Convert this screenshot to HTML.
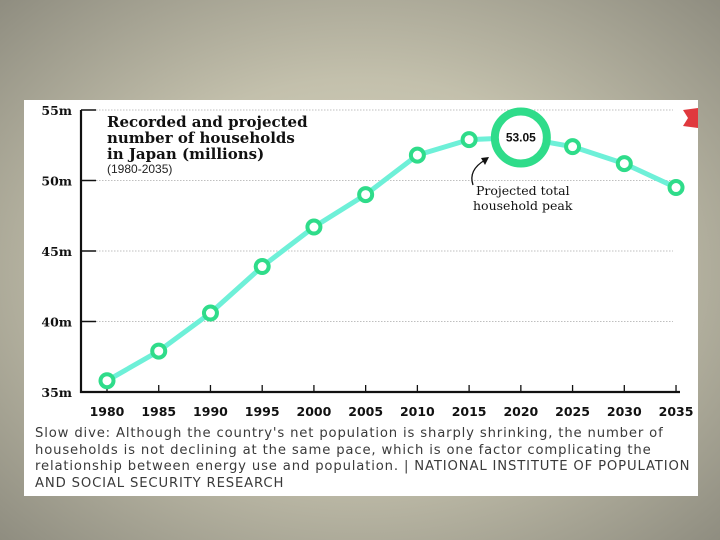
<!DOCTYPE html>
<html><head><meta charset="utf-8"><style>
body{margin:0;width:720px;height:540px;overflow:hidden;background:radial-gradient(ellipse at 50% 50%,#dcd9c6 0%,#c3c0ac 50%,#8f8d80 100%);font-family:"Liberation Sans",sans-serif}
#panel{position:absolute;left:24px;top:100px;width:674px;height:396px;background:#fff}
#cap{position:absolute;left:35px;top:426px;width:680px;font-family:"DejaVu Sans",sans-serif;font-size:13.2px;line-height:16.5px;color:#3a3a3a;letter-spacing:0.85px;white-space:nowrap}
</style></head><body>
<div id="panel"></div>
<svg width="720" height="540" style="position:absolute;left:0;top:0" id="chart">
<polygon points="683,110 698,108 698,128 683,126 688,118" fill="#e0393e"/>
<g id="grid"></g>
<g id="series"></g>
<text x="107" y="127" font-family="DejaVu Serif,serif" font-weight="bold" font-size="15" fill="#111">Recorded and projected</text>
<text x="107" y="143" font-family="DejaVu Serif,serif" font-weight="bold" font-size="15" fill="#111">number of households</text>
<text x="107" y="159" font-family="DejaVu Serif,serif" font-weight="bold" font-size="15" fill="#111">in Japan (millions)</text>
<text x="107" y="173" font-family="Liberation Sans,sans-serif" font-size="12" fill="#222">(1980-2035)</text>
<text x="476" y="195" font-family="DejaVu Serif,serif" font-size="12.5" fill="#111">Projected total</text>
<text x="473" y="210" font-family="DejaVu Serif,serif" font-size="12.5" fill="#111">household peak</text>
<path d="M473,185 Q468,170 485,160" fill="none" stroke="#111" stroke-width="1.3"/>
<polygon points="481,158 489,157 485,165" fill="#111"/>
</svg>
<div id="cap">Slow dive: Although the country's net population is sharply shrinking, the number of<br>households is not declining at the same pace, which is one factor complicating the<br>relationship between energy use and population. | NATIONAL INSTITUTE OF POPULATION<br>AND SOCIAL SECURITY RESEARCH</div>
<script>
const years=[1980,1985,1990,1995,2000,2005,2010,2015,2020,2025,2030,2035];
const households=[35.8,37.9,40.6,43.9,46.7,49.0,51.8,52.9,53.05,52.4,51.2,49.5];
const yTicks=[35,40,45,50,55];
const yTickLabels=["35m","40m","45m","50m","55m"];
const peakLabel="53.05";
const NS="http://www.w3.org/2000/svg";
const xS=i=>107+i*51.73;
const yS=v=>392-(v-35)*14.1;
function mk(t,a,p){const e=document.createElementNS(NS,t);for(const k in a)e.setAttribute(k,a[k]);p.appendChild(e);return e;}
const g=document.getElementById('grid'),s=document.getElementById('series');
yTicks.forEach((v,i)=>{
 if(i>0){const l=mk('line',{x1:96,x2:673,y1:yS(v),y2:yS(v),stroke:'#aaa','stroke-width':0.8,'stroke-dasharray':'1.5,1.5'},g);
 
 }
 const t=mk('line',{x1:81,x2:96,y1:yS(v),y2:yS(v),stroke:'#111','stroke-width':1.5},g);
 
 
 const tx=mk('text',{x:72,y:yS(v)+5,'text-anchor':'end','font-family':'DejaVu Serif,serif','font-weight':'bold','font-size':12.5,fill:'#111'},g);
 tx.textContent=yTickLabels[i];
 
 
});
const ya=mk('line',{x1:81,x2:81,y1:110,y2:393,stroke:'#111','stroke-width':2.2},g);


const xa=mk('line',{x1:80,x2:680,y1:392,y2:392,stroke:'#111','stroke-width':2.2},g);


years.forEach((yr,i)=>{
 const t=mk('line',{x1:xS(i),x2:xS(i),y1:385,y2:392,stroke:'#111','stroke-width':1.3},g);
 
 
 const tx=mk('text',{x:xS(i),y:416,'text-anchor':'middle','font-family':'DejaVu Sans,sans-serif','font-weight':'bold','font-size':12.5,fill:'#111'},g);
 tx.textContent=yr;
 
 
});
const line=mk('polyline',{points:households.map((v,i)=>xS(i)+','+yS(v)).join(' '),fill:'none',stroke:'#6ef0d8','stroke-width':5,'stroke-linejoin':'round'},s);


const pk=households.indexOf(Math.max(...households));
households.forEach((v,i)=>{
 const big=i===pk;
 const c=mk('circle',{cx:xS(i),cy:yS(v),r:big?26:6.5,fill:'#fff',stroke:'#2fdc8a','stroke-width':big?8:4},s);
 
 
});
const pt=mk('text',{x:xS(pk),y:yS(households[pk])+4,'text-anchor':'middle','font-family':'Liberation Sans,sans-serif','font-weight':'bold','font-size':12,fill:'#111'},s);
pt.textContent=peakLabel;


</script>
</body></html>
